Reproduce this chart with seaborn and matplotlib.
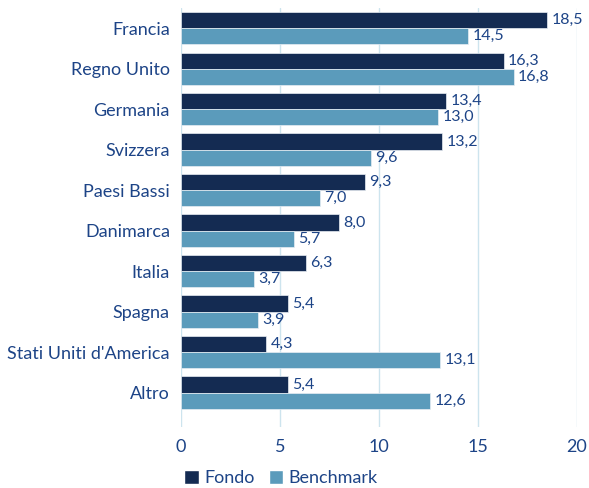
import matplotlib
matplotlib.use("Agg")
import matplotlib.pyplot as plt
import seaborn as sns
import pandas as pd
from matplotlib.patches import Patch

countries = ["Francia", "Regno Unito", "Germania", "Svizzera", "Paesi Bassi",
             "Danimarca", "Italia", "Spagna", "Stati Uniti d'America", "Altro"]
fondo = [18.5, 16.3, 13.4, 13.2, 9.3, 8.0, 6.3, 5.4, 4.3, 5.4]
benchmark = [14.5, 16.8, 13.0, 9.6, 7.0, 5.7, 3.7, 3.9, 13.1, 12.6]
series = ["Fondo", "Benchmark"]
xticks = [0, 5, 10, 15, 20]

df = pd.DataFrame({
    "Paese": countries * 2,
    "Valore": fondo + benchmark,
    "Serie": ["Fondo"] * len(countries) + ["Benchmark"] * len(countries),
})

sns.set_theme(style="white")
plt.rcParams['font.family'] = ['Lato', 'DejaVu Sans']
txt = "#1D4487"
colors = {"Fondo": "#142B52", "Benchmark": "#5B9BBB"}

fig = plt.figure(figsize=(5.89, 4.88), dpi=100)
ax = fig.add_axes([181/589, 1-427/488, (577-181)/589, (427-8)/488])
sns.barplot(data=df, y="Paese", x="Valore", hue="Serie", order=countries,
            hue_order=series, palette=colors, orient="h", width=0.8,
            saturation=1, edgecolor="#E8EEF3", linewidth=0.5, ax=ax, legend=False)

for cont in ax.containers:
    vals = [r.get_width() for r in cont]
    ax.bar_label(cont, labels=[f"{v:.1f}".replace(".", ",") for v in vals],
                 padding=3, color=txt, fontsize=11.5)

ax.set_xlim(0, 20)
ax.set_ylim(9.85, -0.5)
ax.set_xticks(xticks)
ax.set_xticklabels([str(t) for t in xticks], color=txt, fontsize=13)
ax.tick_params(axis='y', labelsize=13, labelcolor=txt, length=0, pad=8)
ax.tick_params(axis='x', length=0, pad=9)
ax.set_xlabel("")
ax.set_ylabel("")
for s in ax.spines.values():
    s.set_visible(False)
ax.grid(axis='x', color="#CDE4EE", linewidth=1)
ax.set_axisbelow(True)

handles = [Patch(facecolor=colors[s], label=s) for s in series]
leg = fig.legend(handles=handles, loc="center", bbox_to_anchor=(281/589, 1-478/488),
                 ncol=2, frameon=False, fontsize=13, handlelength=0.8, handleheight=0.8,
                 handletextpad=0.3, columnspacing=0.8)
for t in leg.get_texts():
    t.set_color(txt)

fig.savefig("out.png", dpi=100)
